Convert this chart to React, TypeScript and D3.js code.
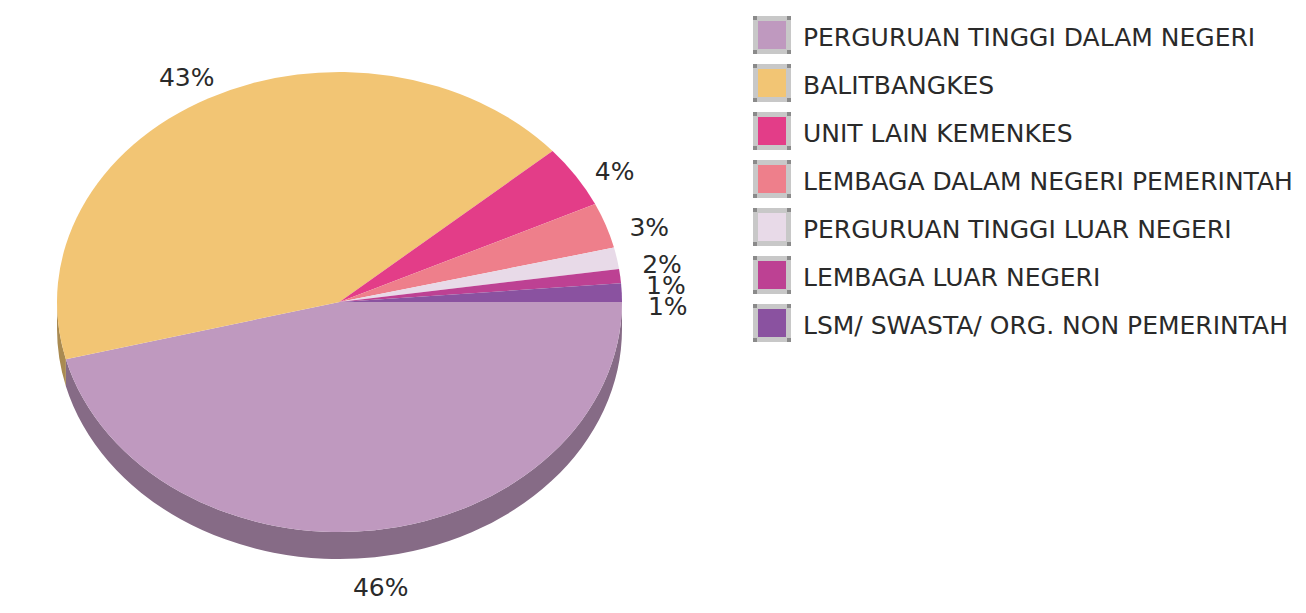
import React from "react";
import * as d3 from "d3";

const categories = [
  "PERGURUAN TINGGI DALAM NEGERI",
  "BALITBANGKES",
  "UNIT LAIN KEMENKES",
  "LEMBAGA DALAM NEGERI PEMERINTAH",
  "PERGURUAN TINGGI LUAR NEGERI",
  "LEMBAGA LUAR NEGERI",
  "LSM/ SWASTA/ ORG. NON PEMERINTAH",
];
const values = [46, 42.6, 4.4, 3.2, 1.5, 1.0, 1.3];
const colors = ["#BF99BF", "#F2C574", "#E33D88", "#EE7F8B", "#E8DAE8", "#BD4193", "#8A52A0"];

const W = 1306;
const H = 613;
const cx = 339.5;
const cy = 302;
const rx = 282.5;
const ry = 230;
const depth = 27;
const FONT = "'DejaVu Sans', sans-serif";

function darker(c: string) {
  const col = d3.rgb(c);
  return d3.rgb(col.r * 0.7, col.g * 0.7, col.b * 0.7).toString();
}

export default function App() {
  const total = d3.sum(values);
  const pie = d3
    .pie<number>()
    .sort(null)
    .startAngle(Math.PI / 2)
    .endAngle(Math.PI / 2 + 2 * Math.PI);
  const arcs = pie(values);

  // screen angle theta: clockwise from 3 o'clock
  const pt = (theta: number, dy = 0) => [cx + rx * Math.cos(theta), cy + ry * Math.sin(theta) + dy];

  const sides: { d: string; fill: string }[] = [];
  arcs.forEach((a, i) => {
    const t0 = a.startAngle - Math.PI / 2;
    const t1 = a.endAngle - Math.PI / 2;
    for (const off of [0, 2 * Math.PI]) {
      const s = Math.max(t0, off);
      const e = Math.min(t1, off + Math.PI);
      if (e > s) {
        const p0 = pt(s);
        const p1 = pt(e);
        const b1 = pt(e, depth);
        const b0 = pt(s, depth);
        sides.push({
          d: `M${p0[0]},${p0[1]} A${rx},${ry} 0 0 1 ${p1[0]},${p1[1]} L${b1[0]},${b1[1]} A${rx},${ry} 0 0 0 ${b0[0]},${b0[1]} Z`,
          fill: darker(colors[i]),
        });
      }
    }
  });

  const tops = arcs.map((a, i) => {
    const t0 = a.startAngle - Math.PI / 2;
    const t1 = a.endAngle - Math.PI / 2;
    const p0 = pt(t0);
    const p1 = pt(t1);
    const large = t1 - t0 > Math.PI ? 1 : 0;
    return {
      d: `M${cx},${cy} L${p0[0]},${p0[1]} A${rx},${ry} 0 ${large} 1 ${p1[0]},${p1[1]} Z`,
      fill: colors[i],
    };
  });

  const labels = arcs.map((a, i) => {
    const mid = (a.startAngle + a.endAngle) / 2;
    const sx = Math.sin(mid);
    const sy = -Math.cos(mid);
    const x = cx + (rx + 46) * sx;
    const off = sy > 0 ? depth + 1 : sx > 0 ? 12 : 6;
    const y = cy + (ry + 30) * sy + off;
    return { x, y, text: Math.round((values[i] / total) * 100) + "%", right: sx > 0 && sy < 0.5 };
  });
  const rightLabels = labels.filter((l) => l.right).sort((a, b) => a.y - b.y);
  for (let i = 1; i < rightLabels.length; i++) {
    if (rightLabels[i].y < rightLabels[i - 1].y + 21) rightLabels[i].y = rightLabels[i - 1].y + 21;
  }

  const legendX = 753;
  const legendY = 16;
  const rowH = 48;
  const sw = 38;

  return (
    <svg
      width={W}
      height={H}
      style={{ position: "absolute", left: 0, top: 0, background: "#fff" }}
      fontFamily={FONT}
    >
      <rect x={0} y={0} width={W} height={H} fill="#ffffff" />
      {sides.map((s, i) => (
        <path key={"s" + i} d={s.d} fill={s.fill} />
      ))}
      {tops.map((t, i) => (
        <path key={"t" + i} d={t.d} fill={t.fill} />
      ))}
      {labels.map((l, i) => (
        <text
          key={"l" + i}
          x={l.x}
          y={l.y}
          textAnchor="middle"
          dominantBaseline="central"
          fontSize={25}
          fill="#2a2a2a"
        >
          {l.text}
        </text>
      ))}
      {categories.map((c, i) => {
        const y = legendY + i * rowH;
        const corners = [
          [legendX + 2, y + 2],
          [legendX + sw - 2, y + 2],
          [legendX + 2, y + sw - 2],
          [legendX + sw - 2, y + sw - 2],
        ];
        return (
          <g key={"g" + i}>
            <rect x={legendX} y={y} width={sw} height={sw} fill="#c8c8c8" />
            <rect x={legendX + 5} y={y + 5} width={sw - 10} height={sw - 10} fill={colors[i]} />
            {corners.map((p, k) => (
              <rect key={k} x={p[0] - 2} y={p[1] - 2} width={4} height={4} fill="#8a8a8a" />
            ))}
            <text
              x={803}
              y={y + sw / 2 + 2}
              dominantBaseline="central"
              fontSize={25}
              fill="#2a2a2a"
            >
              {c}
            </text>
          </g>
        );
      })}
    </svg>
  );
}
